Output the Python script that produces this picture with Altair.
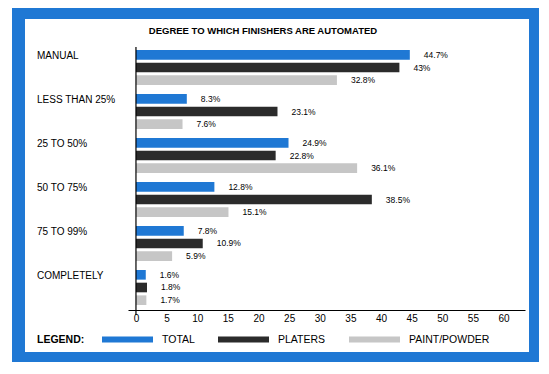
import altair as alt
import pandas as pd

categories = ["MANUAL", "LESS THAN 25%", "25 TO 50%", "50 TO 75%", "75 TO 99%", "COMPLETELY"]
series = ["TOTAL", "PLATERS", "PAINT/POWDER"]
total = [44.7, 8.3, 24.9, 12.8, 7.8, 1.6]
platers = [43, 23.1, 22.8, 38.5, 10.9, 1.8]
paint = [32.8, 7.6, 36.1, 15.1, 5.9, 1.7]
x_ticks = [0, 5, 10, 15, 20, 25, 30, 35, 40, 45, 50, 55, 60]
title_text = "DEGREE TO WHICH FINISHERS ARE AUTOMATED"
legend_title = "LEGEND:"

rows = []
for i, c in enumerate(categories):
    for s, vals in zip(series, [total, platers, paint]):
        v = vals[i]
        rows.append({"category": c, "series": s, "value": v, "label": f"{v:g}%"})
df = pd.DataFrame(rows)
one = pd.DataFrame({"t": [title_text], "lg": [legend_title]})

FONT = "Liberation Sans"
BLUE = "#1f78d4"
DARK = "#2b2b2b"
LIGHT = "#c6c6c6"

xscale = alt.Scale(domain=[-1.3, 63.5], nice=False, zero=False)
xaxis = alt.Axis(values=x_ticks, title=None, grid=False, ticks=False, zindex=2,
                 labelOverlap=False, labelFlush=False,
                 domainColor="black", domainWidth=1.2, labelFont=FONT,
                 labelFontSize=10, labelColor="black", labelPadding=3)
yenc = alt.Y("category:N", sort=categories, axis=None,
             scale=alt.Scale(paddingInner=0.2045, paddingOuter=0.0909, align=0.375))
yoff = alt.YOffset("series:N", sort=series, scale=alt.Scale(paddingInner=0.24, paddingOuter=0))

outer = alt.Chart(one).mark_rect(color=BLUE).encode(
    x=alt.value(-116), x2=alt.value(411), y=alt.value(-39), y2=alt.value(315))
inner = alt.Chart(one).mark_rect(color="white").encode(
    x=alt.value(-103), x2=alt.value(401), y=alt.value(-28), y2=alt.value(305))

bars = alt.Chart(df).mark_bar().encode(
    x=alt.X("value:Q", scale=xscale, axis=xaxis),
    x2=alt.datum(0),
    y=yenc,
    yOffset=yoff,
    color=alt.Color("series:N", sort=series,
                    scale=alt.Scale(domain=series, range=[BLUE, DARK, LIGHT]),
                    legend=alt.Legend(
                        title=None, orient="none", legendX=-26, legendY=267,
                        direction="horizontal",
                        labelFont=FONT, labelFontSize=10.5, labelColor="black",
                        labelOffset=9, columnPadding=23,
                        symbolType="M-1,-0.118H1V0.118H-1Z", symbolSize=2601,
                        symbolStrokeWidth=0, symbolOpacity=1, padding=0)),
)

yrule = alt.Chart(one).mark_rule(color="black", strokeWidth=1.2).encode(
    x=alt.XDatum(0, scale=xscale, axis=xaxis), y=alt.value(0), y2=alt.value(268))

vlabels = alt.Chart(df).mark_text(align="left", baseline="middle", dx=14,
                                  fontSize=8.5, font=FONT, color="black").encode(
    x=alt.X("value:Q", scale=xscale, axis=xaxis), y=yenc, yOffset=yoff, text="label:N")

clabels = alt.Chart(df).transform_filter(alt.datum.series == "TOTAL").mark_text(
    align="left", baseline="middle", dy=1.5, fontSize=10, font=FONT, color="black").encode(
    x=alt.value(-91), y=yenc, yOffset=yoff, text="category:N")

title = alt.Chart(one).mark_text(align="center", baseline="middle", fontSize=9.5,
                                 fontWeight="bold", font=FONT, color="black").encode(
    x=alt.value(135), y=alt.value(-16), text="t:N")

legend_label = alt.Chart(one).mark_text(align="left", baseline="middle", fontSize=10.5,
                                        fontWeight="bold", font=FONT, color="black").encode(
    x=alt.value(-91), y=alt.value(293), text="lg:N")

chart = alt.layer(outer, inner, bars, yrule, vlabels, clabels, title, legend_label).properties(
    width=397, height=263,
    autosize=alt.AutoSizeParams(type="none"),
    padding={"left": 120, "top": 39, "right": 14, "bottom": 52},
    background="white",
).configure_view(stroke=None)

chart.save("out.html", embed_options={"renderer": "svg", "actions": False})
